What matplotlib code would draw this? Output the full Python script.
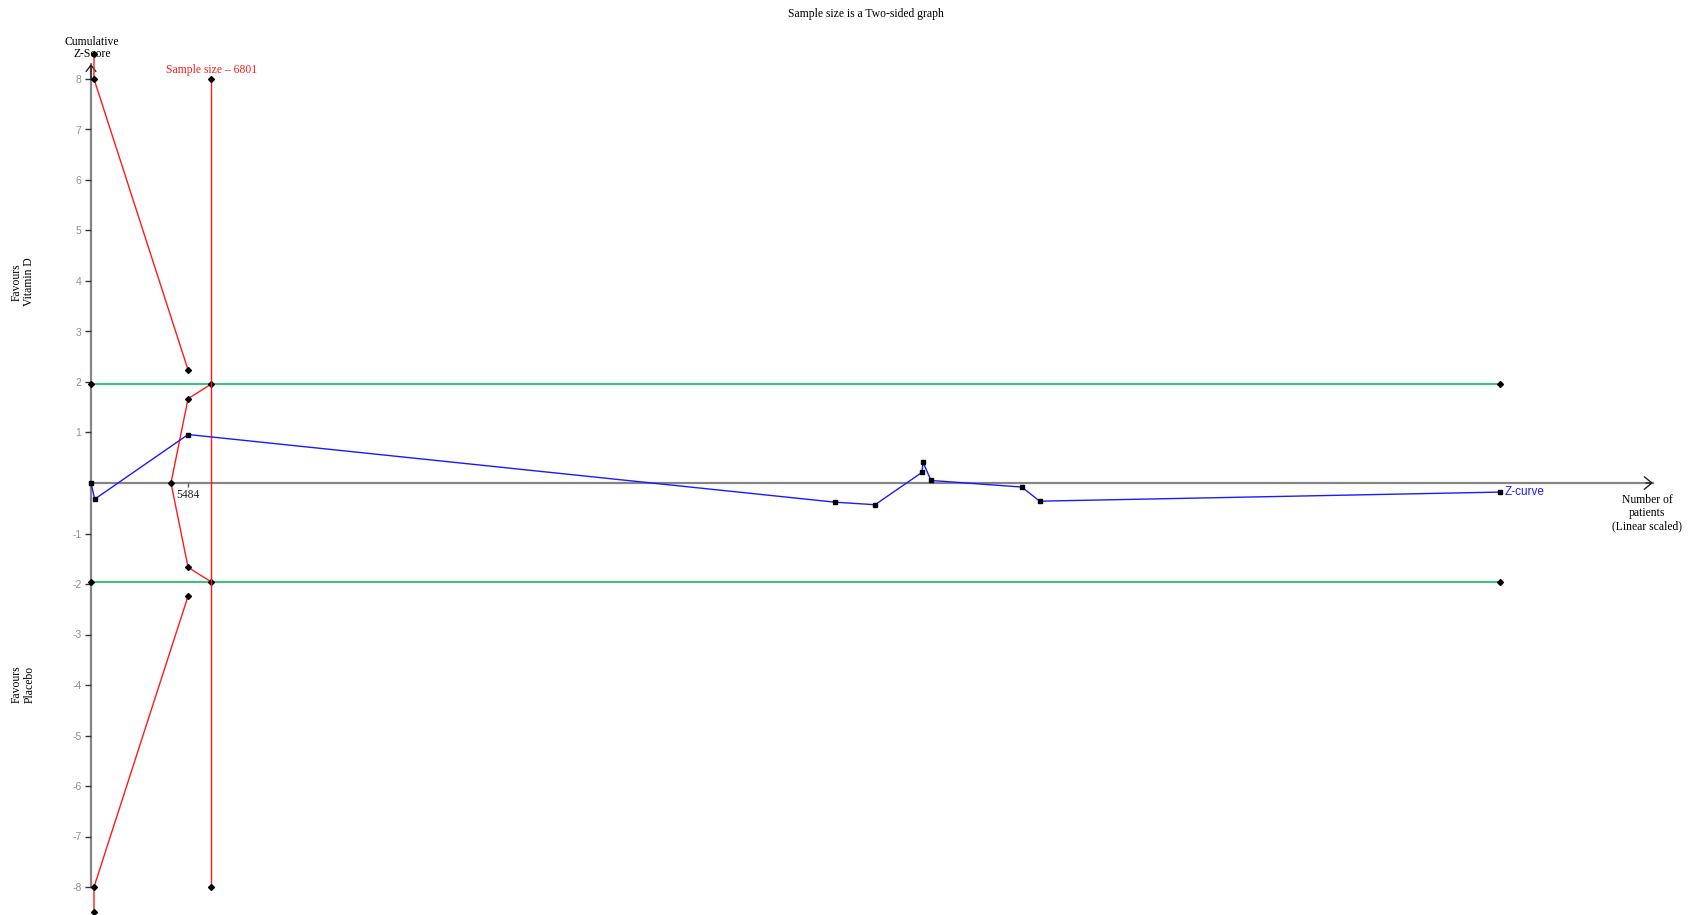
import matplotlib
matplotlib.use("Agg")
import matplotlib.pyplot as plt

# ---------------- data ----------------
# cumulative Z-curve (patients, z)
z_patients = [0, 210, 5484, 42040, 44300, 46950, 47010, 47460, 52590, 53600, 79610]
z_values = [0.0, -0.32, 0.96, -0.38, -0.43, 0.21, 0.41, 0.05, -0.08, -0.36, -0.18]

# conventional significance boundaries
conv_z = 1.96
conv_x = [0, 79610]

# trial sequential monitoring boundaries (upper; lower is mirrored)
tsmb_x = [170, 170, 5484]
tsmb_z = [8.5, 8.0, 2.24]

# futility (inner wedge) boundary
fut_x = [6801, 5484, 4520, 5484, 6801]
fut_z = [1.96, 1.67, 0.0, -1.67, -1.96]

# required sample size
ris = 6801
ris_z = [-8, 8]

y_ticks = [-8, -7, -6, -5, -4, -3, -2, -1, 1, 2, 3, 4, 5, 6, 7, 8]
x_ticks = [5484]
x_tick_labels = ["5484"]

title = "Sample size is a Two-sided graph"

# ---------------- figure ----------------
W, H = 1694, 915
fig = plt.figure(figsize=(W / 100, H / 100), dpi=100)
ax = fig.add_axes([0, 0, 1, 1])

px_per_patient = 1 / 56.5
x0_px, y0_px, px_per_z = 91, 483, 50.5
ax.set_xlim(-x0_px / px_per_patient, (W - x0_px) / px_per_patient)
ax.set_ylim(-(H - y0_px) / px_per_z, y0_px / px_per_z)

serif = ["Liberation Serif", "DejaVu Serif"]
sans = ["Liberation Sans", "DejaVu Sans"]

red = "#ff1a1a"
blue = "#1a1aff"
green = "#3cc47c"
axis_gray = "#858585"

# axes
for s in ["top", "right"]:
    ax.spines[s].set_visible(False)
ax.spines["left"].set_position(("data", 0))
ax.spines["bottom"].set_position(("data", 0))
x_end = (1653 - x0_px) / px_per_patient
y_end = (y0_px - 64) / px_per_z
ax.spines["left"].set_bounds(-8, y_end)
ax.spines["bottom"].set_bounds(0, x_end)
for s in ["left", "bottom"]:
    ax.spines[s].set_color(axis_gray)
    ax.spines[s].set_linewidth(1.6)
    ax.spines[s].set_zorder(1)

ax.set_yticks(y_ticks)
ax.set_yticklabels([str(v) for v in y_ticks], fontfamily=sans, color="#909090", fontsize=7.5)
ax.tick_params(axis="y", direction="out", length=4.3, width=1, color="#333333", pad=2.5)
ax.set_xticks(x_ticks)
ax.set_xticklabels(x_tick_labels, fontfamily=serif, fontsize=8.3, color="#222222")
ax.tick_params(axis="x", direction="out", length=3, width=1, color="#555555", pad=1)

# arrow heads
ax.annotate("", xy=(0, y_end), xytext=(0, y_end - 0.3),
            arrowprops=dict(arrowstyle="->,head_length=0.45,head_width=0.35",
                            color="#222222", lw=1.0, mutation_scale=10,
                            shrinkA=0, shrinkB=0))
ax.annotate("", xy=(x_end, 0), xytext=(x_end - 400, 0),
            arrowprops=dict(arrowstyle="->,head_length=0.55,head_width=0.45",
                            color="#222222", lw=1.0, mutation_scale=10,
                            shrinkA=0, shrinkB=0))

mk = dict(marker="D", markersize=3.0, markerfacecolor="black", markeredgecolor="black")

# conventional boundaries
for sgn in (1, -1):
    ax.plot(conv_x, [sgn * conv_z] * 2, color=green, lw=1.5, zorder=2, **mk)

# TSMB
ax.plot(tsmb_x, tsmb_z, color=red, lw=1.0, zorder=3, **mk)
ax.plot(tsmb_x, [-v for v in tsmb_z], color=red, lw=1.0, zorder=3, **mk)
# futility wedge
ax.plot(fut_x, fut_z, color=red, lw=1.0, zorder=3, **mk)
# required sample size
ax.plot([ris, ris], ris_z, color=red, lw=1.0, zorder=3, **mk)

# Z-curve
ax.plot(z_patients, z_values, color=blue, lw=1.0, zorder=4, marker="s",
        markersize=3.3, markerfacecolor="black", markeredgecolor="black")


def ft(x, y, s, **kw):
    fig.text(x / W, 1 - y / H, s, **kw)


ft(866, 14, title, ha="center", va="center", fontfamily=serif, fontsize=8.4)
ft(92, 48, "Cumulative\nZ-Score", ha="center", va="center", fontfamily=serif,
   fontsize=8.4, linespacing=1.05)
ft(212, 70, "Sample size \u2013 6801", ha="center", va="center", fontfamily=serif,
   fontsize=8.4, color=red)
ft(23, 282, "Favours\nVitamin D", ha="center", va="center", rotation=90,
   fontfamily=serif, fontsize=8.4, linespacing=1.05)
ft(23, 684, "Favours\nPlacebo", ha="center", va="center", rotation=90,
   fontfamily=serif, fontsize=8.4, linespacing=1.05)
ft(1647, 513, "Number of\npatients\n(Linear scaled)", ha="center", va="center",
   fontfamily=serif, fontsize=8.4, linespacing=1.1)
ft(1505, 492, "Z-curve", ha="left", va="center", fontfamily=sans, fontsize=8.5,
   color=blue)

fig.savefig("out.png", dpi=100)
